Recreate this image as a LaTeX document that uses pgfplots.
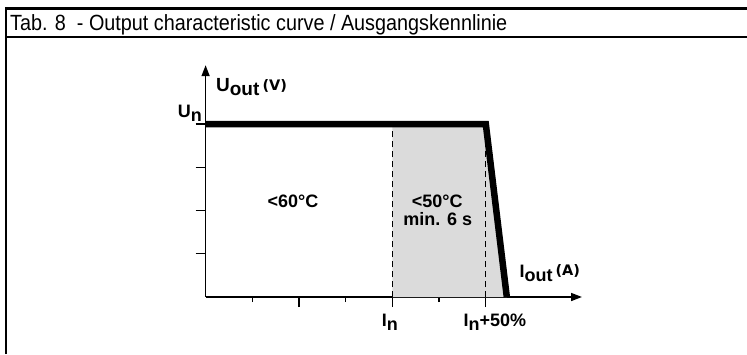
\documentclass[border=0pt]{standalone}
\usepackage{pgfplots}
\pgfplotsset{compat=1.18}
\usepackage{fontspec}
\setmainfont{Liberation Sans}
\newfontfamily\dejavu{DejaVu Sans}
\newfontfamily\titlefont[FakeStretch=0.9]{Liberation Sans}
\usetikzlibrary{arrows.meta}
\newcommand\lab{\bfseries\fontsize{18}{21}\selectfont}
\newcommand\unitf{\dejavu\bfseries\fontsize{14.5}{16}\selectfont}
\begin{document}
\begin{tikzpicture}[x=1pt,y=1pt]
\useasboundingbox (0,0) rectangle (747,354);
\begin{axis}[
  at={(205.6pt,57pt)}, anchor=origin,
  x=46.7pt, y=43.25pt,
  xmin=0, xmax=8.06, ymin=0, ymax=5.36,
  axis lines=left,
  axis line style={line width=1.6pt},
  x axis line style={-{Triangle[length=11pt,width=8pt]}},
  y axis line style={-{Triangle[length=11pt,width=8pt]}},
  xtick={2,4,6}, minor xtick={1,3,5}, ytick={1,2,3,4},
  xticklabels={}, yticklabels={},
  tick align=outside, tick pos=left,
  major tick length=10pt, minor tick length=5pt,
  every tick/.style={black, line width=1.3pt},
  clip mode=individual,
]
\addplot[draw=none, fill=gray!28] coordinates {(4,0) (4,4) (6,4) (6.45,0)} -- cycle;
\addplot[black, line width=1.2pt, dash pattern=on 6.5pt off 3.5pt] coordinates {(4,0) (4,4.16)};
\addplot[black, line width=1.2pt, dash pattern=on 6.5pt off 3.5pt] coordinates {(6,0) (6,4.16)};
\addplot[black, line width=6.5pt, line join=miter] coordinates {(0,4) (6,4) (6.45,0)};
\node[anchor=base, inner sep=0pt, font=\lab] at (axis cs:1.87,2.08) {<60°C};
\node[anchor=base, inner sep=0pt, font=\lab] at (axis cs:4.96,2.08) {<50°C};
\node[anchor=base, inner sep=0pt, font=\lab] at (axis cs:4.97,1.65) {min. 6 s};
\node[anchor=base west, inner sep=0pt, font=\lab] at (axis cs:6.72,0.46) {I\raisebox{-4pt}{out}\,\raisebox{1.5pt}{\unitf(A)}};
\node[anchor=base west, inner sep=0pt, font=\lab] at (axis cs:0.22,4.74) {\fontsize{19}{21}\selectfont U\raisebox{-3.5pt}{out}\,\raisebox{1pt}{\unitf(V)}};
\node[anchor=base east, inner sep=0pt, font=\lab] at (axis cs:-0.077,4.16) {U\raisebox{-4pt}{n}};
\node[anchor=base west, inner sep=0pt, font=\lab] at (axis cs:3.77,-0.69) {I\raisebox{-4pt}{n}};
\node[anchor=base west, inner sep=0pt, font=\lab] at (axis cs:5.52,-0.69) {I\raisebox{-4pt}{n}+50\%};
\end{axis}
\fill[white] (8,0) rectangle (747,24);
\draw[line width=2.4pt] (6.2,0) -- (6.2,346.7);
\draw[line width=2.4pt] (5,345.5) -- (747,345.5);
\draw[line width=2.2pt] (5,316.7) -- (747,316.7);
\node[anchor=base west, inner sep=0pt, font=\titlefont\fontsize{22}{26}\selectfont] at (10,323.5) {Tab. 8\ \ - Output characteristic curve / Ausgangskennlinie};
\end{tikzpicture}
\end{document}
